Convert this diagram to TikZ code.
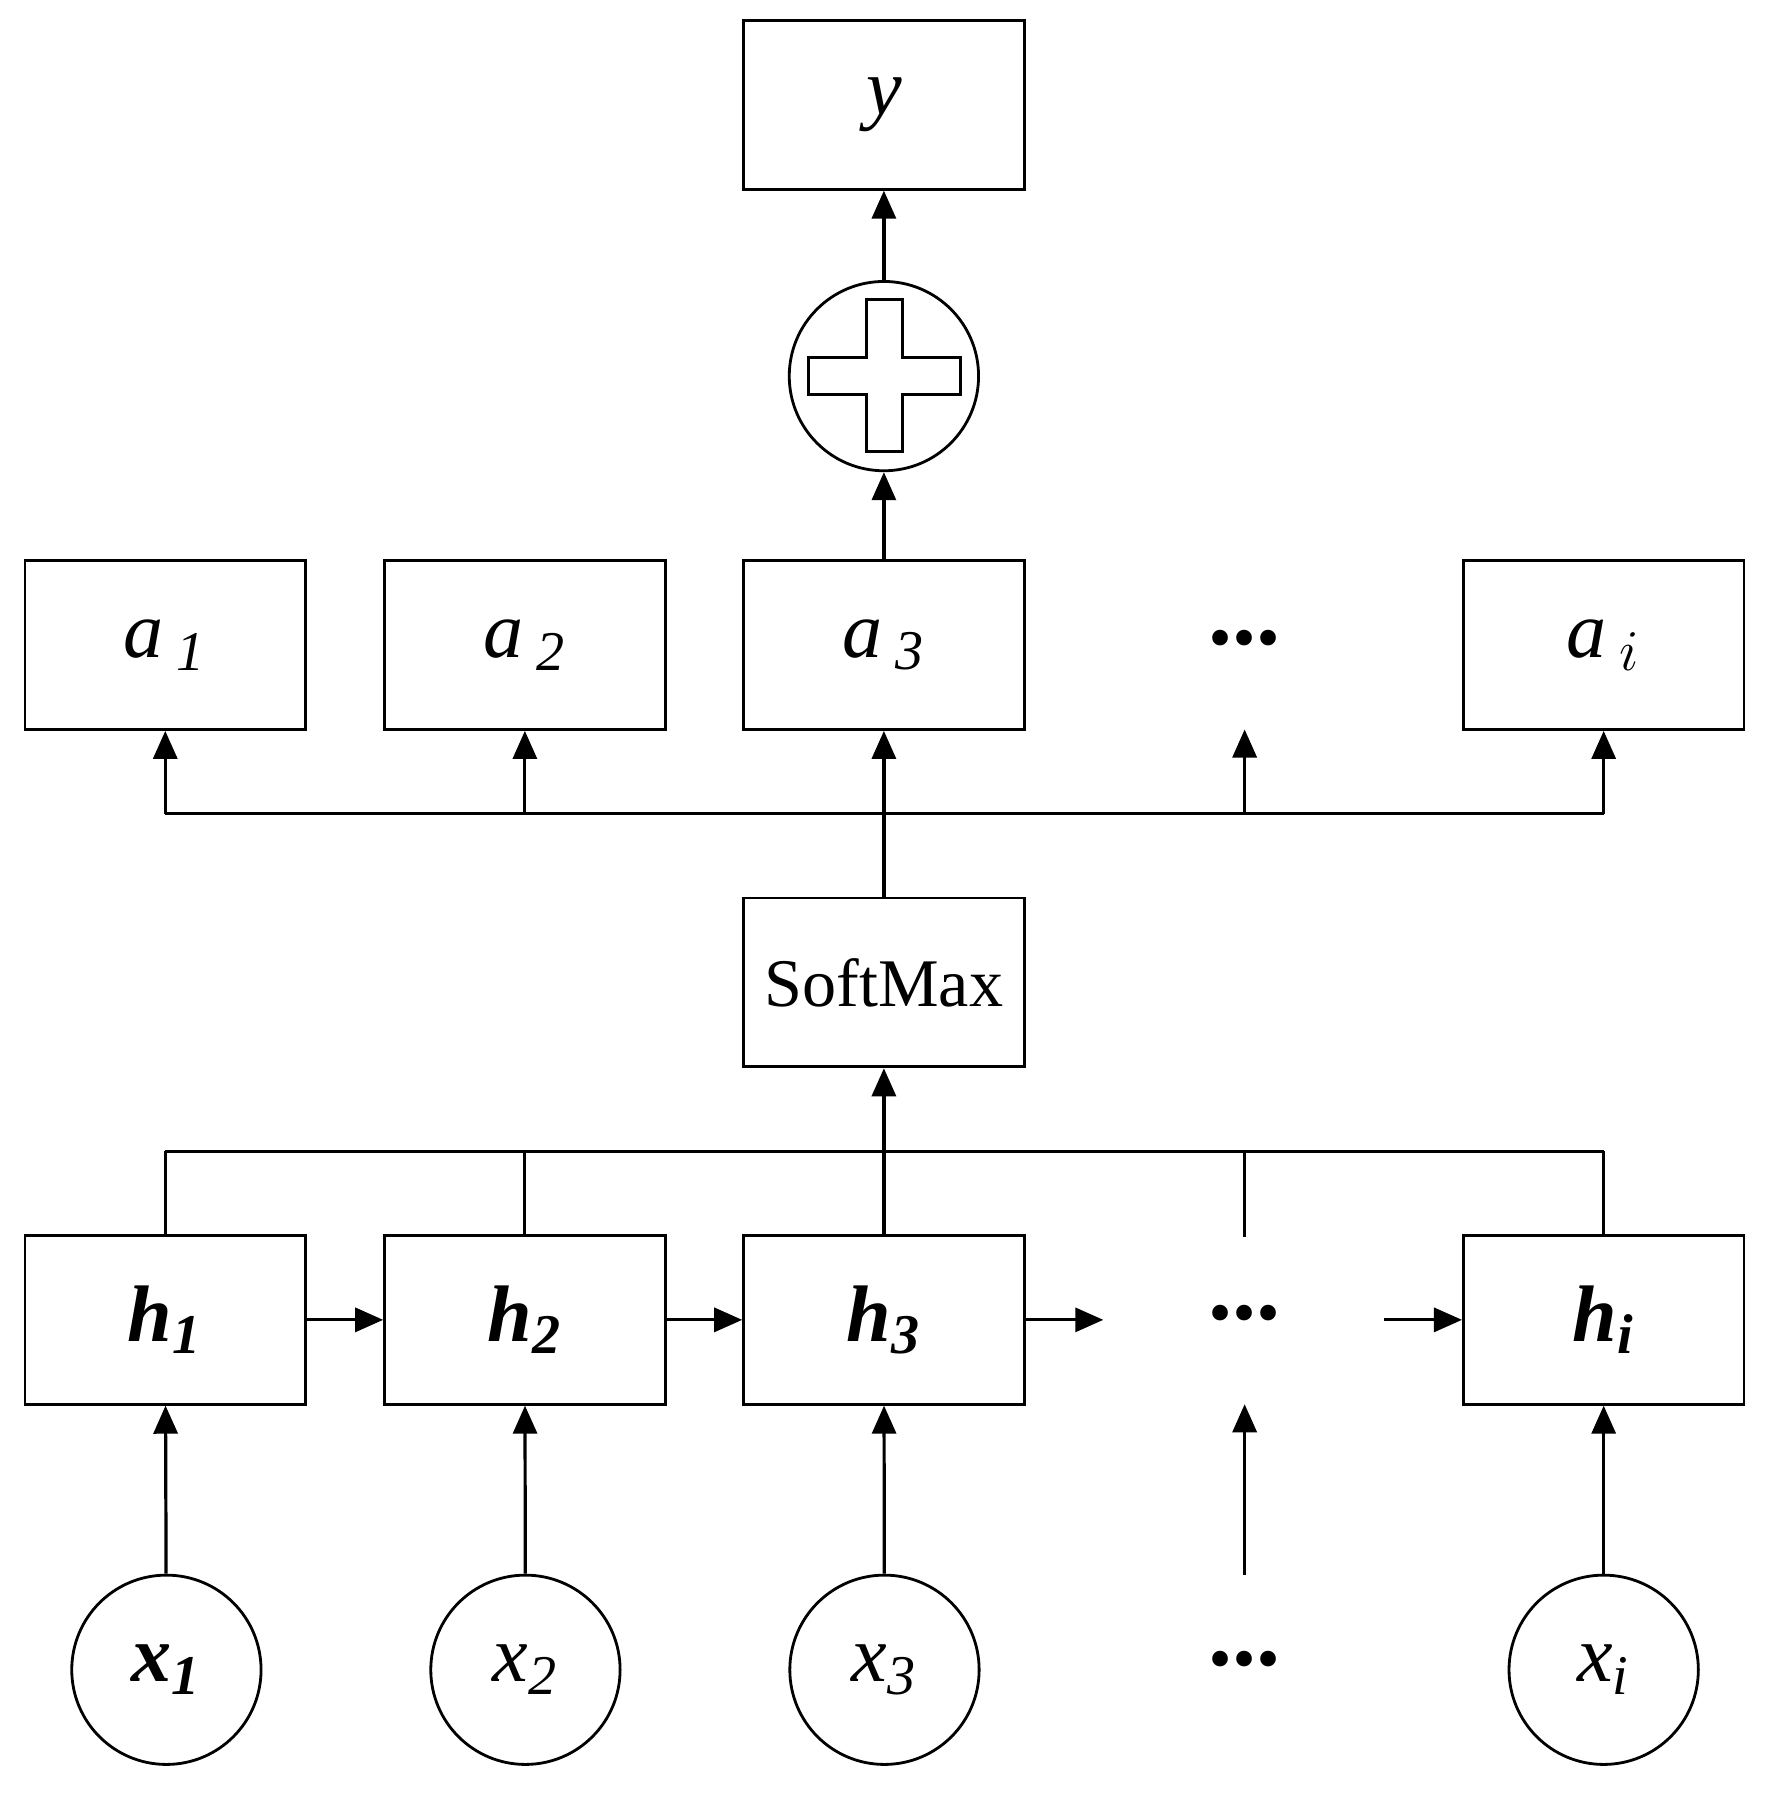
\documentclass[tikz,border=0pt]{standalone}
\usepackage{fontspec}
\setmainfont{Liberation Serif}
\usetikzlibrary{arrows.meta}
\begin{document}
\begin{tikzpicture}[x=0.01cm,y=-0.01cm,
  box/.style={draw,line width=0.7pt,minimum width=2.46cm,minimum height=1.48cm,inner sep=0pt,font=\fontsize{20}{22}\selectfont},
  circ/.style={draw,circle,line width=0.7pt,minimum size=1.66cm,inner sep=0pt,font=\fontsize{20}{22}\selectfont},
  ar/.style={line width=0.8pt,-{Triangle[length=7pt,width=6pt]}},
  ln/.style={line width=0.8pt},
  dots/.style={font=\fontsize{24}{24}\selectfont\bfseries}]
\useasboundingbox (0,0) rectangle (1560,1574);
\node[box] (y) at (775.5,92) {\itshape y};
\node[circ] (p) at (775.5,330) {};
\draw[line width=0.8pt] (760,263)--(792,263)--(792,314)--(843,314)--(843,346)--(792,346)--(792,396)--(760,396)--(760,346)--(709,346)--(709,314)--(760,314)--cycle;
\node[box] (a1) at (145,566) {\itshape a\,$_{\mathit 1}$};
\node[box] (a2) at (460.5,566) {\itshape a\,$_{\mathit 2}$};
\node[box] (a3) at (775.5,566) {\itshape a\,$_{\mathit 3}$};
\node[dots] (ad) at (1092,560) {...};
\node[box] (ai) at (1407,566) {\itshape a\,$_{i}$};
\node[box,font=\fontsize{17}{20}\selectfont] (sm) at (775.5,862) {SoftMax};
\node[box] (h1) at (145,1158) {\bfseries\itshape h\textsubscript{1}};
\node[box] (h2) at (460.5,1158) {\bfseries\itshape h\textsubscript{2}};
\node[box] (h3) at (775.5,1158) {\bfseries\itshape h\textsubscript{3}};
\node[dots] (hd) at (1092,1152) {...};
\node[box] (hi) at (1407,1158) {\bfseries\itshape h\textsubscript{i}};
\node[circ] (x1) at (146,1465) {\bfseries\itshape x\textsubscript{1}};
\node[circ] (x2) at (461,1465) {\itshape x\textsubscript{2}};
\node[circ] (x3) at (776,1465) {\itshape x\textsubscript{3}};
\node[dots] (xd) at (1092,1456) {...};
\node[circ] (xi) at (1407,1465) {\itshape x\textsubscript{i}};
\coordinate (ta) at (1092,640);
\coordinate (th) at (1092,1085);
\coordinate (b1) at (1092,1382);
\coordinate (b2) at (1092,1232);
\coordinate (l1) at (968,1158);
\coordinate (l2) at (1214,1158);
\draw[ar] (p) -- (y);
\draw[ar] (a3) -- (p);
\draw[ln] (sm.north) -- (775.5,714);
\draw[ln] (145,714) -- (1407,714);
\foreach \n in {a1,a2,a3,ai} \draw[ar] (\n.south |- 0,714) -- (\n.south);
\draw[ar] (1092,714) -- (ta);
\draw[ln] (145,1010) -- (1407,1010);
\foreach \n in {h1,h2,h3,hi} \draw[ln] (\n.north) -- (\n.north |- 0,1010);
\draw[ln] (th) -- (1092,1010);
\draw[ar] (775.5,1010) -- (sm.south);
\draw[ar] (h1) -- (h2);
\draw[ar] (h2) -- (h3);
\draw[ar] (h3.east) -- (l1);
\draw[ar] (l2) -- (hi.west);
\foreach \a/\b in {x1/h1,x2/h2,x3/h3,xi/hi} \draw[ar] (\a) -- (\b);
\draw[ar] (b1) -- (b2);
\end{tikzpicture}
\end{document}
